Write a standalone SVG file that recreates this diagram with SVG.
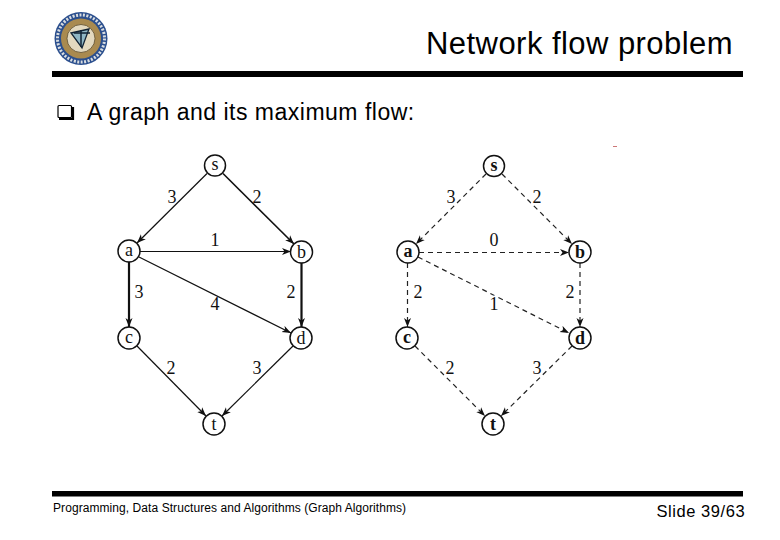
<svg xmlns="http://www.w3.org/2000/svg" width="780" height="540" viewBox="0 0 780 540">
<style>
.s{font-family:"Liberation Sans",Arial,sans-serif;fill:#000}
.n circle{fill:#fff;stroke:#111;stroke-width:1.5}
.n text,.l text{font-family:"Liberation Serif","Times New Roman",serif;fill:#111;text-anchor:middle}
.n text{font-size:18px}
.l text{font-size:18px}
.w text{font-weight:bold}
.h text{stroke:#fff;stroke-width:3;paint-order:stroke}
.e line{stroke:#111;stroke-width:1.2;marker-end:url(#a)}
.e .t{stroke-width:2.2}
.e .m{stroke-width:1.6}
.d line{stroke:#222;stroke-width:1.2;stroke-dasharray:5 4;marker-end:url(#a)}
</style>
<defs>
<marker id="a" markerUnits="userSpaceOnUse" markerWidth="10" markerHeight="8" refX="9" refY="4" orient="auto"><path d="M0 0.5L9 4L0 7.500L2.500 4Z" fill="#111"/></marker>
</defs>
<rect width="780" height="540" fill="#fff"/>
<g id="logo">
<circle cx="81" cy="38.500" r="26.500" fill="#2b4f8e"/>
<circle cx="81" cy="38.500" r="23.500" fill="none" stroke="#d9dde0" stroke-width="3" stroke-dasharray="2 1.500"/>
<circle cx="81" cy="38.500" r="20" fill="#a98a4f"/>
<circle cx="81" cy="38.500" r="14" fill="#e3d9bf" stroke="#5a4a2a" stroke-width="0.800"/>
<path d="M71 33L89 29L82 48Z" fill="#8fb6c4" stroke="#123" stroke-width="1.300"/>
<path d="M74 33L90 33M81 30L81 47" stroke="#123" stroke-width="1.500" fill="none"/>
</g>
<text class="s" x="426" y="53.500" font-size="31" letter-spacing="0.450">Network flow problem</text>
<rect x="52" y="71" width="691" height="6" fill="#000"/>
<g id="bullet"><rect x="58" y="105.500" width="13.500" height="12" rx="1" fill="#fff" stroke="#000" stroke-width="1.200"/><path d="M59 119H73V107" fill="none" stroke="#000" stroke-width="2.200"/></g>
<text class="s" x="87" y="120" font-size="23" letter-spacing="0.500">A graph and its maximum flow:</text>
<g id="connectors-left" class="e">
<line x1="207" y1="173.500" x2="137" y2="243"/>
<line class="m" x1="223" y1="173.500" x2="294" y2="244"/>
<line x1="140" y1="251.500" x2="291" y2="251.500"/>
<line x1="139" y1="257" x2="291" y2="333"/>
<line class="t" x1="129" y1="262" x2="129" y2="327"/>
<line class="t" x1="301.500" y1="263" x2="301.500" y2="327"/>
<line x1="137" y1="346" x2="206" y2="416"/>
<line x1="293" y1="346" x2="222" y2="416"/>
</g>
<g id="connectors-right" class="d">
<line x1="486" y1="174" x2="416" y2="244"/>
<line x1="502" y1="174" x2="572" y2="244"/>
<line x1="419" y1="252.500" x2="569" y2="252.500"/>
<line x1="418" y1="257" x2="569" y2="333"/>
<line x1="407.500" y1="263" x2="407.500" y2="327"/>
<line x1="580" y1="263" x2="580" y2="327"/>
<line x1="415" y1="346" x2="485" y2="416"/>
<line x1="572" y1="346" x2="501" y2="416"/>
</g>
<g id="labels-left" class="l">
<text x="172" y="203">3</text><text x="257" y="203">2</text><text x="215" y="246">1</text>
<text x="139" y="298">3</text><text x="215" y="309.500">4</text><text x="291" y="298">2</text>
<text x="171" y="374">2</text><text x="257" y="374">3</text>
</g>
<g id="labels-right" class="l h">
<text x="451" y="203">3</text><text x="537" y="203">2</text><text x="494" y="246">0</text>
<text x="418" y="298">2</text><text x="494" y="310">1</text><text x="570" y="298">2</text>
<text x="450" y="374">2</text><text x="537" y="374">3</text>
</g>
<g id="node-s" class="n"><circle cx="215" cy="165.500" r="10.500"/><text x="215" y="170">s</text></g>
<g id="node-a" class="n"><circle cx="129" cy="251" r="11"/><text x="129" y="256">a</text></g>
<g id="node-b" class="n"><circle cx="301.500" cy="252" r="11"/><text x="301.500" y="258">b</text></g>
<g id="node-c" class="n"><circle cx="129" cy="338" r="11"/><text x="129" y="343">c</text></g>
<g id="node-d" class="n"><circle cx="301" cy="338" r="11"/><text x="301" y="344">d</text></g>
<g id="node-t" class="n"><circle cx="214" cy="424" r="11"/><text x="214" y="430">t</text></g>
<g id="node-s2" class="n w"><circle cx="494" cy="166" r="10.500"/><text x="494" y="170.500">s</text></g>
<g id="node-a2" class="n w"><circle cx="408" cy="252" r="11"/><text x="408" y="257">a</text></g>
<g id="node-b2" class="n w"><circle cx="580" cy="252" r="11"/><text x="580" y="258">b</text></g>
<g id="node-c2" class="n w"><circle cx="407" cy="338" r="11"/><text x="407" y="343">c</text></g>
<g id="node-d2" class="n w"><circle cx="580" cy="338" r="11"/><text x="580" y="344">d</text></g>
<g id="node-t2" class="n w"><circle cx="493" cy="424" r="11"/><text x="493" y="430">t</text></g>
<rect x="613" y="146" width="4" height="1" fill="#c77"/>
<rect x="52" y="491" width="691" height="5.500" fill="#000"/>
<text class="s" x="53" y="511.500" font-size="12" letter-spacing="0.070">Programming, Data Structures and Algorithms (Graph Algorithms)</text>
<text class="s" x="656.500" y="516.500" font-size="16.500" letter-spacing="0.550">Slide 39/63</text>
</svg>
